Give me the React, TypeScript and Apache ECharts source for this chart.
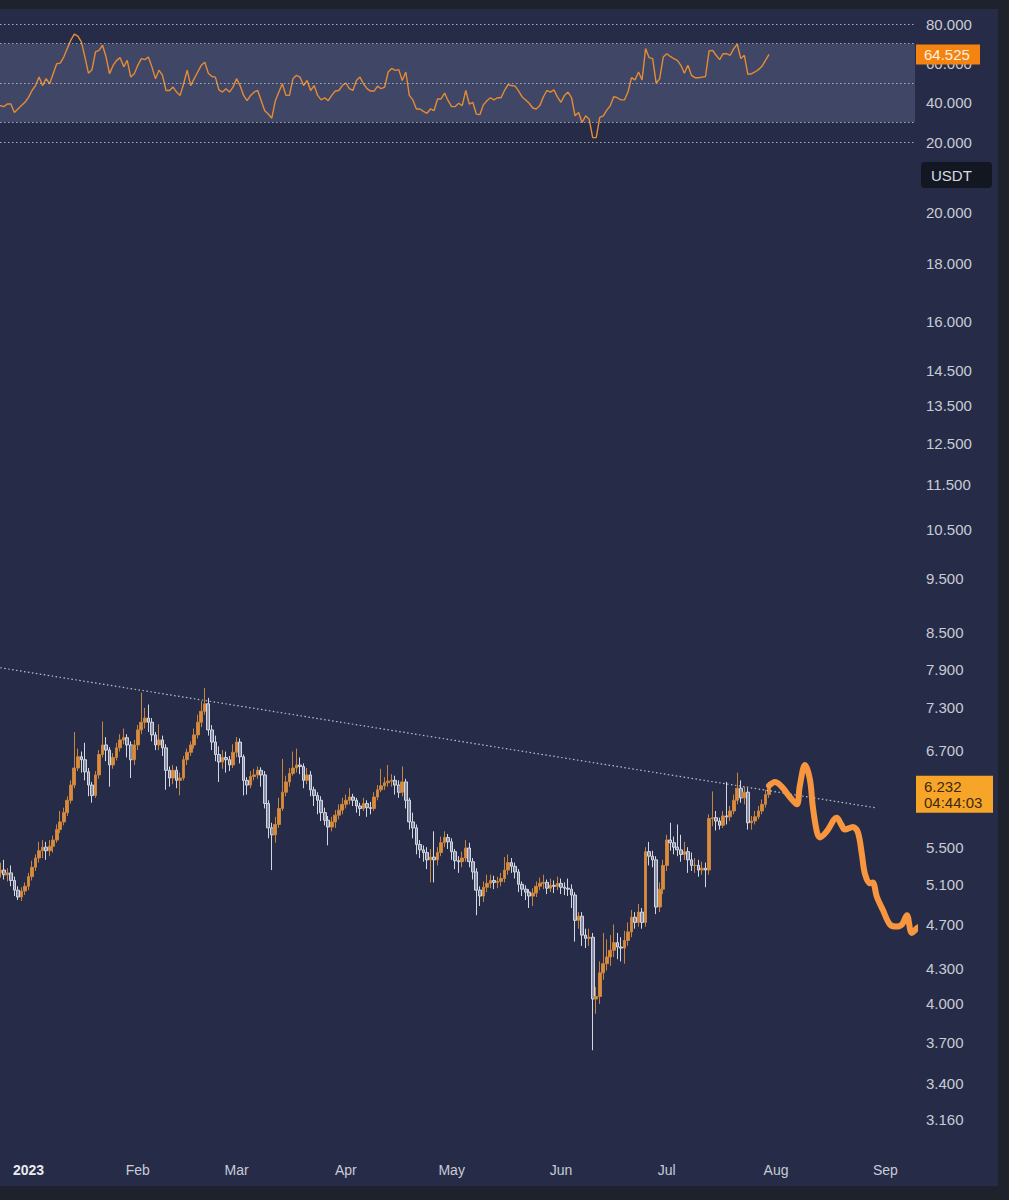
import React, { useEffect, useRef } from "react";
import * as echarts from "echarts";

const DAY = 86400000;
const JAN1 = Date.UTC(2023, 0, 1);
const FIRST_CANDLE = Date.UTC(2022, 11, 23);
const FONT = "'Liberation Sans', Arial, sans-serif";

// daily candles, 2022-12-23 .. 2023-07-30
const opens = [
  5.18, 5.22, 5.25, 5.20, 5.22, 5.14, 5.04, 4.97, 5.03,
  5.08, 5.18, 5.28, 5.38, 5.46, 5.50, 5.46, 5.51, 5.58, 5.70,
  5.79, 5.90, 6.05, 6.24, 6.46, 6.61, 6.57, 6.41, 6.24, 6.11,
  6.37, 6.64, 6.77, 6.70, 6.50, 6.60, 6.73, 6.84, 6.87, 6.77,
  6.57, 6.77, 6.98, 7.09, 7.15, 7.09, 6.91, 6.77, 6.84, 6.73,
  6.43, 6.33, 6.43, 6.30, 6.33, 6.57, 6.67, 6.77, 6.91, 7.09,
  7.25, 7.36, 6.98, 6.81, 6.64, 6.54, 6.60, 6.57, 6.50, 6.67,
  6.81, 6.61, 6.30, 6.24, 6.35, 6.37, 6.43, 6.37, 6.01, 5.72,
  5.64, 5.76, 5.95, 6.15, 6.28, 6.39, 6.46, 6.50, 6.48, 6.30,
  6.37, 6.18, 6.11, 6.05, 5.90, 5.81, 5.73, 5.79, 5.87, 5.93,
  6.00, 6.05, 6.09, 6.05, 5.98, 5.95, 6.01, 5.96, 5.95, 6.09,
  6.18, 6.23, 6.27, 6.29, 6.30, 6.24, 6.15, 6.28, 6.05, 5.79,
  5.72, 5.53, 5.47, 5.44, 5.36, 5.39, 5.36, 5.44, 5.55, 5.61,
  5.56, 5.45, 5.35, 5.34, 5.38, 5.49, 5.34, 5.23, 5.04, 4.98,
  5.07, 5.11, 5.14, 5.12, 5.13, 5.16, 5.25, 5.33, 5.29, 5.23,
  5.10, 5.05, 5.02, 4.98, 5.01, 5.08, 5.11, 5.12, 5.06, 5.09,
  5.08, 5.11, 5.07, 5.06, 5.05, 4.99, 4.74, 4.78, 4.60, 4.57,
  4.58, 4.04, 4.06, 4.26, 4.34, 4.40, 4.46, 4.53, 4.49, 4.48,
  4.55, 4.63, 4.77, 4.72, 4.82, 4.72, 5.45, 5.40, 5.36, 4.87,
  5.05, 5.30, 5.58, 5.55, 5.50, 5.47, 5.42, 5.45, 5.36, 5.30,
  5.30, 5.25, 5.27, 5.25, 5.83, 5.84, 5.80, 5.75, 5.86, 5.85,
  5.92, 6.05, 6.20, 6.08, 6.15, 5.78, 5.80, 5.85, 5.92, 6.00,
  6.12,
];
const closes = [
  5.22, 5.25, 5.20, 5.22, 5.14, 5.04, 4.97, 5.03, 5.08,
  5.18, 5.28, 5.38, 5.46, 5.50, 5.46, 5.51, 5.58, 5.70, 5.79,
  5.90, 6.05, 6.24, 6.46, 6.61, 6.57, 6.41, 6.24, 6.11, 6.37,
  6.64, 6.77, 6.70, 6.50, 6.60, 6.73, 6.84, 6.87, 6.77, 6.57,
  6.77, 6.98, 7.09, 7.15, 7.09, 6.91, 6.77, 6.84, 6.73, 6.43,
  6.33, 6.43, 6.30, 6.33, 6.57, 6.67, 6.77, 6.91, 7.09, 7.25,
  7.36, 6.98, 6.81, 6.64, 6.54, 6.60, 6.57, 6.50, 6.67, 6.81,
  6.61, 6.30, 6.24, 6.35, 6.37, 6.43, 6.37, 6.01, 5.72, 5.64,
  5.76, 5.95, 6.15, 6.28, 6.39, 6.46, 6.50, 6.48, 6.30, 6.37,
  6.18, 6.11, 6.05, 5.90, 5.81, 5.73, 5.79, 5.87, 5.93, 6.00,
  6.05, 6.09, 6.05, 5.98, 5.95, 6.01, 5.96, 5.95, 6.09, 6.18,
  6.23, 6.27, 6.29, 6.30, 6.24, 6.15, 6.28, 6.05, 5.79, 5.72,
  5.53, 5.47, 5.44, 5.36, 5.39, 5.36, 5.44, 5.55, 5.61, 5.56,
  5.45, 5.35, 5.34, 5.38, 5.49, 5.34, 5.23, 5.04, 4.98, 5.07,
  5.11, 5.14, 5.12, 5.13, 5.16, 5.25, 5.33, 5.29, 5.23, 5.10,
  5.05, 5.02, 4.98, 5.01, 5.08, 5.11, 5.12, 5.06, 5.09, 5.08,
  5.11, 5.07, 5.06, 5.05, 4.99, 4.74, 4.78, 4.60, 4.57, 4.58,
  4.04, 4.06, 4.26, 4.34, 4.40, 4.46, 4.53, 4.49, 4.48, 4.55,
  4.63, 4.77, 4.72, 4.82, 4.72, 5.45, 5.40, 5.36, 4.87, 5.05,
  5.30, 5.58, 5.55, 5.50, 5.47, 5.42, 5.45, 5.36, 5.30, 5.30,
  5.25, 5.27, 5.25, 5.83, 5.84, 5.80, 5.75, 5.86, 5.85, 5.92,
  6.05, 6.20, 6.08, 6.15, 5.78, 5.80, 5.85, 5.92, 6.00, 6.12,
  6.232,
];
const lows = [
  5.12, 5.17, 5.15, 5.13, 5.08, 4.98, 4.94, 4.93, 4.99,
  5.04, 5.14, 5.24, 5.33, 5.38, 5.36, 5.40, 5.44, 5.55, 5.66,
  5.75, 5.86, 6.01, 6.20, 6.42, 6.40, 6.30, 6.10, 6.02, 6.08,
  6.32, 6.60, 6.55, 6.22, 6.45, 6.56, 6.68, 6.78, 6.60, 6.33,
  6.50, 6.70, 6.92, 7.00, 6.95, 6.82, 6.70, 6.70, 6.62, 6.18,
  6.22, 6.25, 6.20, 6.11, 6.30, 6.50, 6.62, 6.72, 6.86, 7.02,
  7.20, 6.90, 6.70, 6.55, 6.28, 6.45, 6.40, 6.42, 6.46, 6.60,
  6.52, 6.11, 6.12, 6.20, 6.30, 6.32, 6.22, 5.95, 5.60, 5.25,
  5.55, 5.72, 5.92, 6.10, 6.22, 6.36, 6.40, 6.38, 6.20, 6.25,
  6.10, 5.98, 5.88, 5.80, 5.75, 5.52, 5.68, 5.72, 5.82, 5.88,
  5.95, 6.00, 5.98, 5.90, 5.86, 5.92, 5.85, 5.88, 5.92, 6.05,
  6.15, 6.18, 6.22, 6.22, 6.12, 6.08, 6.10, 5.95, 5.70, 5.60,
  5.42, 5.38, 5.34, 5.26, 5.12, 5.12, 5.30, 5.40, 5.50, 5.48,
  5.36, 5.26, 5.22, 5.28, 5.34, 5.28, 5.15, 4.79, 4.88, 4.92,
  5.02, 5.06, 5.05, 5.06, 5.08, 5.12, 5.20, 5.22, 5.16, 5.02,
  4.98, 4.94, 4.86, 4.88, 4.97, 5.04, 5.05, 5.00, 5.02, 5.01,
  5.04, 5.00, 4.99, 4.98, 4.86, 4.54, 4.66, 4.50, 4.48, 4.50,
  3.64, 3.92, 4.00, 4.20, 4.28, 4.32, 4.40, 4.38, 4.36, 4.34,
  4.50, 4.58, 4.66, 4.68, 4.66, 4.68, 5.30, 5.28, 4.80, 4.82,
  5.00, 5.24, 5.46, 5.42, 5.40, 5.34, 5.36, 5.22, 5.24, 5.22,
  5.18, 5.20, 5.07, 5.20, 5.74, 5.69, 5.70, 5.72, 5.76, 5.80,
  5.88, 6.00, 6.02, 6.00, 5.70, 5.70, 5.76, 5.82, 5.88, 5.96,
  6.08,
];
const highs = [
  5.30, 5.33, 5.36, 5.27, 5.30, 5.18, 5.08, 5.07, 5.12,
  5.22, 5.35, 5.42, 5.56, 5.58, 5.56, 5.58, 5.63, 5.76, 5.92,
  5.96, 6.10, 6.30, 6.95, 6.72, 6.68, 6.80, 6.46, 6.28, 6.42,
  6.70, 7.10, 6.88, 6.74, 6.66, 6.80, 6.92, 7.00, 6.92, 6.82,
  6.84, 7.05, 7.53, 7.30, 7.35, 7.15, 6.95, 7.06, 6.90, 6.78,
  6.48, 6.50, 6.48, 6.40, 6.62, 6.72, 6.82, 7.00, 7.20, 7.40,
  7.60, 7.45, 7.05, 6.90, 6.75, 6.70, 6.68, 6.62, 6.78, 6.88,
  6.86, 6.64, 6.34, 6.42, 6.45, 6.48, 6.47, 6.42, 6.05, 5.78,
  5.85, 6.08, 6.58, 6.36, 6.46, 6.68, 6.72, 6.60, 6.52, 6.46,
  6.42, 6.22, 6.15, 6.10, 5.96, 5.86, 5.85, 5.93, 6.00, 6.08,
  6.12, 6.20, 6.13, 6.08, 6.02, 6.08, 6.05, 6.03, 6.15, 6.24,
  6.45, 6.34, 6.50, 6.38, 6.36, 6.30, 6.48, 6.32, 6.08, 5.90,
  5.76, 5.58, 5.52, 5.50, 5.48, 5.68, 5.50, 5.62, 5.68, 5.65,
  5.60, 5.48, 5.40, 5.45, 5.58, 5.55, 5.38, 5.27, 5.08, 5.13,
  5.20, 5.20, 5.19, 5.18, 5.22, 5.39, 5.42, 5.38, 5.33, 5.26,
  5.13, 5.09, 5.05, 5.06, 5.13, 5.17, 5.20, 5.15, 5.16, 5.14,
  5.18, 5.16, 5.12, 5.16, 5.10, 5.02, 4.82, 4.82, 4.66, 4.66,
  4.62, 4.14, 4.36, 4.62, 4.56, 4.60, 4.70, 4.62, 4.58, 4.64,
  4.72, 4.84, 4.82, 4.90, 4.86, 5.50, 5.56, 5.46, 5.40, 5.12,
  5.36, 5.64, 5.78, 5.62, 5.76, 5.64, 5.56, 5.50, 5.44, 5.38,
  5.36, 5.34, 5.33, 5.88, 6.16, 5.92, 5.84, 5.92, 6.28, 5.98,
  6.12, 6.40, 6.30, 6.22, 6.20, 5.86, 5.92, 5.98, 6.06, 6.18,
  6.28,
];

// RSI, one value per candle
const rsiValues = [
  39.0, 38.5, 38.0, 39.3, 39.3, 35.0, 36.8, 38.5, 40.2,
  42.7, 46.2, 48.7, 53.0, 48.7, 52.2, 49.6, 54.7, 59.8, 60.1,
  63.2, 67.5, 71.8, 74.9, 73.8, 70.9, 63.2, 55.0, 56.7, 65.8,
  66.6, 69.2, 63.2, 54.7, 59.0, 61.5, 62.9, 58.2, 61.5, 53.0,
  54.7, 59.0, 62.4, 61.9, 63.2, 58.2, 52.2, 56.5, 53.9, 46.2,
  46.2, 47.9, 45.4, 43.7, 49.6, 56.5, 48.7, 52.2, 55.6, 59.0,
  60.6, 55.0, 53.3, 53.0, 46.5, 45.4, 47.1, 45.4, 47.9, 52.2,
  48.7, 43.7, 41.0, 43.7, 45.4, 46.2, 41.0, 35.9, 34.2, 32.1,
  41.0, 45.4, 49.6, 43.7, 43.7, 52.2, 53.9, 53.0, 48.7, 51.3,
  46.2, 48.7, 43.7, 41.4, 42.5, 41.0, 43.7, 45.9, 46.2, 48.7,
  50.0, 47.1, 46.2, 51.3, 53.0, 49.6, 47.1, 45.9, 45.9, 48.4,
  47.1, 47.9, 55.6, 57.4, 56.4, 56.8, 51.3, 55.6, 43.7, 41.4,
  36.8, 36.8, 35.6, 34.6, 36.8, 35.9, 41.9, 41.9, 44.9, 41.0,
  38.0, 38.0, 39.7, 38.5, 46.2, 39.3, 40.2, 34.2, 33.9, 38.9,
  41.0, 42.5, 41.4, 42.5, 42.5, 46.2, 49.2, 48.7, 48.4, 45.9,
  42.9, 41.4, 39.7, 37.3, 36.8, 38.5, 42.9, 46.2, 45.4, 46.5,
  42.9, 40.2, 43.7, 45.4, 42.5, 33.3, 35.0, 29.9, 33.3, 31.6,
  22.2, 22.2, 32.5, 33.3, 36.2, 38.5, 43.1, 42.5, 41.4, 41.4,
  45.4, 52.7, 51.6, 55.6, 51.6, 67.5, 62.9, 62.4, 49.9, 52.2,
  63.2, 64.9, 63.5, 62.4, 61.5, 59.0, 55.0, 59.0, 53.9, 52.7,
  52.7, 53.0, 53.3, 66.3, 66.6, 64.1, 61.9, 64.9, 64.9, 64.1,
  67.5, 69.7, 62.4, 64.1, 54.4, 54.7, 55.6, 56.8, 58.5, 61.5,
  64.525,
];

// hand-drawn projection (days after 2023-01-01, price)
const projDays = [210, 211.7, 213.6, 215.9, 217.9, 218.7, 220.2, 221.6, 222.4, 223.6, 224.4, 226.4, 229.2, 230.6, 231.5, 233.8, 235.2, 236.3, 237.2, 238.6, 239.4, 240.6, 242.3, 244.3, 246.2, 247.7, 249.1, 250.5, 252.2, 254.8];
const projPrices = [6.232, 6.28, 6.22, 6.09, 6.0, 6.22, 6.5, 6.31, 5.98, 5.67, 5.61, 5.68, 5.84, 5.75, 5.7, 5.73, 5.67, 5.43, 5.21, 5.11, 5.12, 4.97, 4.84, 4.7, 4.68, 4.7, 4.79, 4.62, 4.67, 4.71];

// dotted trend line
const trendDays = [-8, 240];
const trendPrices = [7.92, 5.96];

const priceTicks = [20, 18, 16, 14.5, 13.5, 12.5, 11.5, 10.5, 9.5, 8.5, 7.9, 7.3, 6.7, 5.5, 5.1, 4.7, 4.3, 4.0, 3.7, 3.4, 3.16];
const rsiLevels = [80, 70, 50, 30, 20];
const monthLabels = ["2023", "Feb", "Mar", "Apr", "May", "Jun", "Jul", "Aug", "Sep"];
const monthTicks = monthLabels.map((_, m) => Date.UTC(2023, m, 1));

const lastPrice = 6.232;
const countdown = "04:44:03";
const lastRsi = 64.525;

const PRICE_MIN = 2.972;
const PRICE_MAX = 22.23;
const X_MIN = JAN1 - 8.08 * DAY;
const X_MAX = JAN1 + 251.4 * DAY;

const LABEL_COLOR = "#c8cbd6";

export default function App() {
  const ref = useRef<HTMLDivElement>(null);

  useEffect(() => {
    if (!ref.current) return;
    const chart = echarts.init(ref.current, undefined, { renderer: "svg" });

    const candleData = closes.map((c, i) => [FIRST_CANDLE + i * DAY, opens[i], c, lows[i], highs[i]]);
    const rsiData = rsiValues.map((v, i) => [FIRST_CANDLE + i * DAY, v]);
    const projData = projDays.map((d, i) => [JAN1 + d * DAY, projPrices[i]]);
    const trendData = trendDays.map((d, i) => [JAN1 + d * DAY, trendPrices[i]]);

    const dotted = { color: "rgba(205,210,225,0.75)", width: 1, type: [1.5, 2.5] };

    const monthName = (v: number) => {
      const idx = monthTicks.findIndex((t) => Math.abs(t - v) < DAY / 2);
      if (idx < 0) return "";
      return idx === 0 ? "{y|" + monthLabels[0] + "}" : monthLabels[idx];
    };

    chart.setOption({
      animation: false,
      backgroundColor: "transparent",
      textStyle: { fontFamily: FONT },
      grid: [
        { left: 0, right: 94, top: 24, height: 118, outerBoundsMode: "none", containLabel: false },
        { left: 0, right: 94, top: 160, bottom: 50, outerBoundsMode: "none", containLabel: false },
      ],
      xAxis: [
        { type: "value", gridIndex: 0, min: X_MIN, max: X_MAX, show: false },
        {
          type: "value",
          gridIndex: 1,
          min: X_MIN,
          max: X_MAX,
          axisLine: { show: false },
          axisTick: { show: false },
          splitLine: { show: false },
          axisLabel: {
            customValues: monthTicks,
            hideOverlap: false,
            color: LABEL_COLOR,
            fontSize: 14,
            fontFamily: FONT,
            margin: 13,
            formatter: monthName,
            rich: { y: { fontWeight: "bold", color: "#e9ebf1", fontSize: 14, fontFamily: FONT } },
          },
        },
      ],
      yAxis: [
        {
          type: "value",
          gridIndex: 0,
          position: "right",
          min: 20,
          max: 80,
          interval: 20,
          splitLine: { show: false },
          axisLine: { show: false },
          axisTick: { show: false },
          axisLabel: { color: LABEL_COLOR, fontSize: 15, fontFamily: FONT, margin: 11, formatter: (v: number) => v.toFixed(3) },
        },
        { type: "log", logBase: 10, gridIndex: 1, min: PRICE_MIN, max: PRICE_MAX, show: false },
        {
          type: "value",
          gridIndex: 1,
          position: "right",
          min: Math.log10(PRICE_MIN),
          max: Math.log10(PRICE_MAX),
          splitLine: { show: false },
          axisLine: { show: false },
          axisTick: { show: false },
          axisLabel: {
            customValues: priceTicks.map((p) => Math.log10(p)),
            hideOverlap: false,
            color: LABEL_COLOR,
            fontSize: 15,
            fontFamily: FONT,
            margin: 11,
            formatter: (v: number) => Math.pow(10, v).toFixed(3),
          },
        },
      ],
      series: [
        {
          type: "line",
          name: "RSI",
          xAxisIndex: 0,
          yAxisIndex: 0,
          data: rsiData,
          symbol: "none",
          lineStyle: { color: "#e58b35", width: 1.4 },
          silent: true,
          markArea: {
            silent: true,
            label: { show: false },
            itemStyle: { color: "rgba(150,158,205,0.23)" },
            data: [[{ yAxis: 30 }, { yAxis: 70 }]],
          },
          markLine: {
            silent: true,
            symbol: ["none", "none"],
            label: { show: false },
            lineStyle: dotted,
            data: rsiLevels.map((v) => ({ yAxis: v })),
          },
        },
        {
          type: "line",
          name: "trend",
          xAxisIndex: 1,
          yAxisIndex: 1,
          data: trendData,
          symbol: "none",
          silent: true,
          lineStyle: { color: "rgba(215,220,232,0.85)", width: 1.2, type: [1.5, 2.5] },
          z: 3,
        },
        {
          type: "candlestick",
          name: "price",
          xAxisIndex: 1,
          yAxisIndex: 1,
          data: candleData,
          encode: { x: 0, y: [1, 2, 3, 4] },
          barWidth: 3.2,
          silent: true,
          itemStyle: {
            color: "#dc8b3d",
            color0: "rgba(150,157,180,0.85)",
            borderColor: "#c7843f",
            borderColor0: "#d3d7e2",
            borderWidth: 1,
          },
          z: 2,
        },
        {
          type: "line",
          name: "projection",
          xAxisIndex: 1,
          yAxisIndex: 1,
          data: projData,
          symbol: "none",
          smooth: 0.35,
          clip: false,
          silent: true,
          lineStyle: { color: "#f7963f", width: 6, cap: "round", join: "round" },
          z: 5,
        },
      ],
    });

    const py = chart.convertToPixel({ yAxisIndex: 1 }, lastPrice) as number;
    const ry = chart.convertToPixel({ yAxisIndex: 0 }, lastRsi) as number;

    chart.setOption({
      graphic: [
        {
          type: "group",
          z: 100,
          children: [
            { type: "rect", shape: { x: 916, y: ry - 10, width: 64, height: 20 }, style: { fill: "#f5830f" }, z: 100 },
            {
              type: "text",
              x: 924,
              y: ry + 0.5,
              z: 101,
              style: { text: lastRsi.toFixed(3), fill: "#fff1e0", font: "15px " + FONT, verticalAlign: "middle", textVerticalAlign: "middle" },
            },
            { type: "rect", shape: { x: 916, y: py - 10, width: 77, height: 37 }, style: { fill: "#f7a528" }, z: 100 },
            {
              type: "text",
              x: 924,
              y: py + 0.5,
              z: 101,
              style: { text: lastPrice.toFixed(3), fill: "#3d2a0e", font: "15px " + FONT, verticalAlign: "middle", textVerticalAlign: "middle" },
            },
            {
              type: "text",
              x: 924,
              y: py + 17,
              z: 101,
              style: { text: countdown, fill: "#3d2a0e", font: "15px " + FONT, verticalAlign: "middle", textVerticalAlign: "middle" },
            },
            { type: "rect", shape: { x: 921, y: 162, width: 71, height: 26, r: 4 }, style: { fill: "#131722" }, z: 100 },
            {
              type: "text",
              x: 931,
              y: 175.5,
              z: 101,
              style: { text: "USDT", fill: "#d8dbe3", font: "500 15px " + FONT, verticalAlign: "middle", textVerticalAlign: "middle" },
            },
          ],
        },
      ],
    });

    return () => chart.dispose();
  }, []);

  return (
    <div style={{ position: "fixed", left: 0, top: 0, width: 1009, height: 1200, background: "#1e222d" }}>
      <div style={{ position: "absolute", left: 0, top: 9, width: 998, height: 1177, background: "#262c47" }} />
      <div ref={ref} style={{ position: "absolute", left: 0, top: 0, width: 1009, height: 1200 }} />
    </div>
  );
}
